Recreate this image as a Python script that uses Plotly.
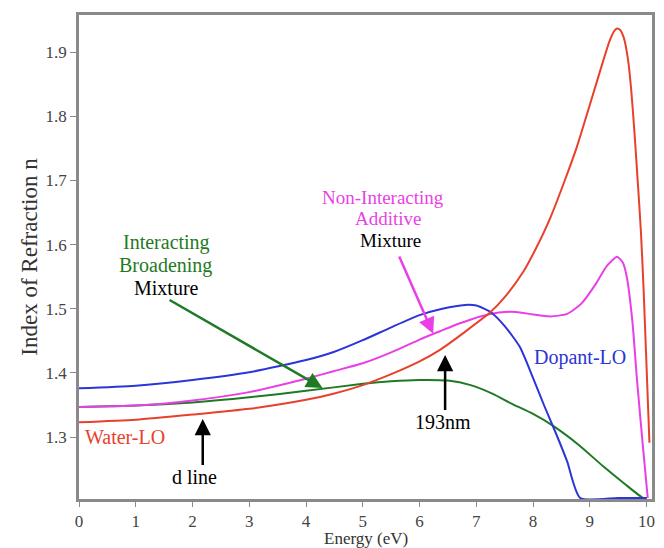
import plotly.graph_objects as go

# ---- data ----
red_E = [0, 1, 2, 3, 4, 4.5, 5, 5.5, 6, 6.36, 6.8, 7.24, 7.5, 7.83, 8.05, 8.3, 8.55, 8.77,
         9.0, 9.24, 9.35, 9.43, 9.48, 9.53, 9.6, 9.67, 9.73, 9.79, 9.85, 9.9, 9.95, 10.05]
red_n = [1.323, 1.327, 1.335, 1.344, 1.358, 1.368, 1.381, 1.398, 1.418, 1.436, 1.464, 1.494,
         1.518, 1.558, 1.594, 1.641, 1.698, 1.752, 1.818, 1.888, 1.918, 1.933, 1.937, 1.935,
         1.922, 1.890, 1.840, 1.770, 1.690, 1.620, 1.524, 1.291]

blue_E = [0, 1, 2, 3, 4, 4.5, 5, 5.5, 6, 6.4, 6.8, 7.0, 7.25, 7.5, 7.77, 8.0, 8.2, 8.42,
          8.6, 8.83, 9.5, 10.0]
blue_n = [1.376, 1.380, 1.389, 1.401, 1.420, 1.433, 1.451, 1.471, 1.490, 1.500, 1.506, 1.505,
          1.495, 1.473, 1.440, 1.392, 1.348, 1.302, 1.262, 1.205, 1.205, 1.205]

pink_E = [0, 1, 2, 3, 3.5, 4, 4.5, 5, 5.5, 6, 6.36, 6.7, 7.07, 7.4, 7.7, 8.0, 8.3, 8.6,
          8.85, 9.1, 9.3, 9.48, 9.58, 9.65, 9.75, 9.83, 9.93, 10.02]
pink_n = [1.347, 1.349, 1.357, 1.370, 1.380, 1.391, 1.403, 1.415, 1.432, 1.452, 1.465, 1.477,
          1.488, 1.494, 1.495, 1.491, 1.488, 1.492, 1.508, 1.538, 1.567, 1.581, 1.572, 1.550,
          1.480, 1.390, 1.290, 1.205]

green_E = [0, 1, 2, 3, 4, 5, 5.5, 6, 6.5, 6.9, 7.3, 7.6, 8.0, 8.36, 8.8, 9.24, 9.6, 9.94, 10.0]
green_n = [1.347, 1.349, 1.354, 1.362, 1.372, 1.383, 1.387, 1.389, 1.388, 1.381, 1.367, 1.353,
           1.336, 1.317, 1.288, 1.254, 1.228, 1.205, 1.205]

x_ticks = [0, 1, 2, 3, 4, 5, 6, 7, 8, 9, 10]
y_ticks = [1.3, 1.4, 1.5, 1.6, 1.7, 1.8, 1.9]

RED = "#e8412b"
BLUE = "#2b35d8"
PINK = "#e93fe6"
GREEN = "#1f7a24"
FONT = "Liberation Serif"

fig = go.Figure()
for E, n, c in [(green_E, green_n, GREEN), (pink_E, pink_n, PINK),
                (blue_E, blue_n, BLUE), (red_E, red_n, RED)]:
    fig.add_trace(go.Scatter(x=E, y=n, mode="lines",
                             line=dict(color=c, width=2, shape="spline", smoothing=0.6),
                             showlegend=False, hoverinfo="skip"))

def label(x, y, text, color, size=20):
    fig.add_annotation(x=x, y=y, text=text, showarrow=False, xref="x", yref="y",
                       font=dict(family=FONT, size=size, color=color))

def arrow(x0, y0, x1, y1, color):
    fig.add_annotation(x=x1, y=y1, ax=x0, ay=y0, xref="x", yref="y", axref="x", ayref="y",
                       text="", showarrow=True, arrowhead=2, arrowsize=1.3, arrowwidth=2.5,
                       arrowcolor=color, standoff=0, startstandoff=0)

label(1.54, 1.604, "Interacting", GREEN)
label(1.52, 1.568, "Broadening", GREEN)
label(1.54, 1.532, "Mixture", "black")
label(5.36, 1.674, "Non-Interacting", PINK, 19)
label(5.45, 1.641, "Additive", PINK, 19)
label(5.48, 1.607, "Mixture", "black", 19)
label(0.81, 1.300, "Water-LO", RED)
label(2.04, 1.238, "d line", "black")
label(6.42, 1.324, "193nm", "black")
label(8.83, 1.4247, "Dopant-LO", BLUE)

arrow(1.57, 1.515, 4.29, 1.3764, GREEN)
arrow(5.63, 1.584, 6.24, 1.461, PINK)
arrow(2.18, 1.254, 2.18, 1.328, "black")
arrow(6.45, 1.340, 6.45, 1.428, "black")

# x-axis title, placed just under the tick labels
fig.add_annotation(x=0.5, y=0, xref="paper", yref="paper", xanchor="center", yanchor="top",
                   yshift=-29, text="Energy (eV)", showarrow=False, borderpad=0,
                   font=dict(family=FONT, size=17, color="#333333"))

axis_common = dict(showline=True, linecolor="#8a8a8a", linewidth=2.5, mirror=True,
                   showgrid=False, zeroline=False, ticks="outside",
                   tickcolor="#8a8a8a", tickwidth=1, layer="below traces", automargin=False,
                   tickfont=dict(family=FONT, size=17, color="#444444"))

fig.update_xaxes(range=[0, 10.095], tickvals=x_ticks, ticktext=[str(v) for v in x_ticks],
                 ticklen=5, ticklabelstandoff=0, **axis_common)
fig.update_yaxes(range=[1.2034, 1.958], tickvals=y_ticks, ticktext=[f"{v:.1f}" for v in y_ticks],
                 ticklen=6,
                 title=dict(text="Index of Refraction n", font=dict(family=FONT, size=23, color="#333333"),
                            standoff=2),
                 **axis_common)

# the page body adds an 8px offset, so the figure is sized to the remaining window
fig.update_layout(width=656, height=540, margin=dict(l=71, r=12, t=7, b=49),
                  plot_bgcolor="white", paper_bgcolor="white")

fig.write_html("out.html")
